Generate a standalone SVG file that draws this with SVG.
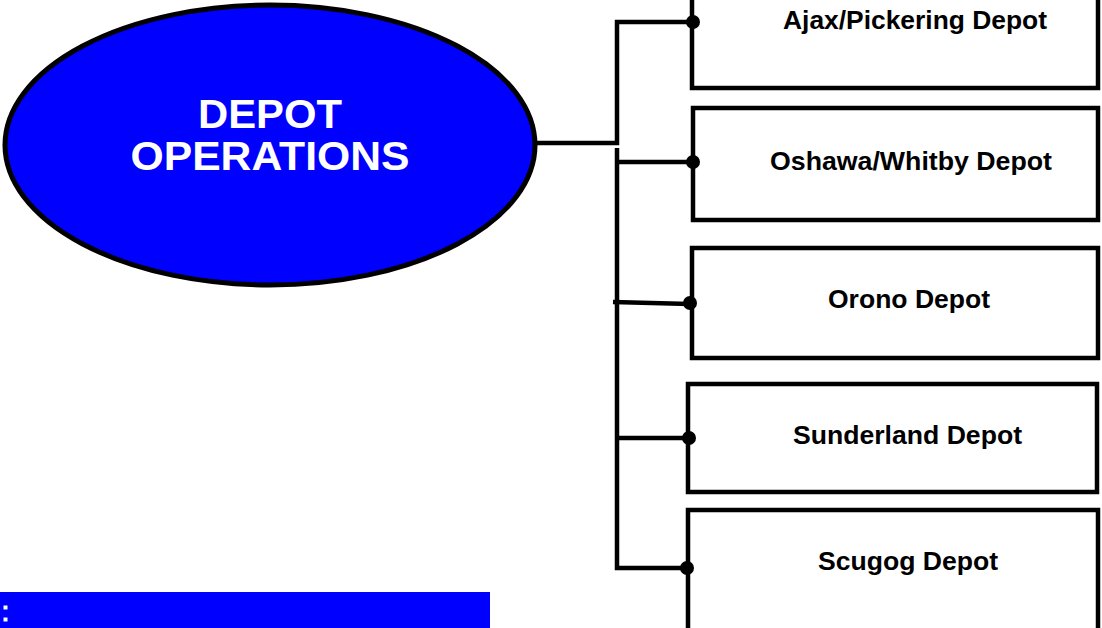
<svg xmlns="http://www.w3.org/2000/svg" width="1102" height="628" viewBox="0 0 1102 628">
<style>
.box{fill:#fff;stroke:#000;stroke-width:4.5}
.lbl{font-family:"Liberation Sans",Arial,sans-serif;font-weight:bold;font-size:25px;fill:#000;text-anchor:middle}
.title{font-family:"Liberation Sans",Arial,sans-serif;font-weight:bold;font-size:40px;fill:#fff;text-anchor:middle}
.conn{fill:none;stroke:#000;stroke-width:4.5;stroke-linejoin:miter}
.dot{fill:#000}
</style>
<rect width="1102" height="628" fill="#fff"/>
<g id="connectors">
<path class="conn" d="M535,143 H617 V22 H693"/>
<path class="conn" d="M617,148 V568 H687"/>
<path class="conn" d="M617,162 H693"/>
<path class="conn" d="M613,302 L690,304"/>
<path class="conn" d="M617,438 H689"/>
</g>
<g id="depot-operations">
<ellipse cx="270" cy="145" rx="265" ry="140" fill="#0000ff" stroke="#000" stroke-width="5"/>
<text class="title" x="270" y="128" textLength="144" lengthAdjust="spacingAndGlyphs">DEPOT</text>
<text class="title" x="270" y="170" textLength="279" lengthAdjust="spacingAndGlyphs">OPERATIONS</text>
</g>
<g id="ajax">
<rect class="box" x="692" y="-10" width="406" height="98"/>
<text class="lbl" x="915" y="29" textLength="264" lengthAdjust="spacingAndGlyphs">Ajax/Pickering Depot</text>
</g>
<g id="oshawa">
<rect class="box" x="693" y="108" width="405" height="112"/>
<text class="lbl" x="911" y="170" textLength="282" lengthAdjust="spacingAndGlyphs">Oshawa/Whitby Depot</text>
</g>
<g id="orono">
<rect class="box" x="692" y="248" width="406" height="110"/>
<text class="lbl" x="909" y="308" textLength="162" lengthAdjust="spacingAndGlyphs">Orono Depot</text>
</g>
<g id="sunderland">
<rect class="box" x="688" y="384" width="409" height="108"/>
<text class="lbl" x="907.5" y="444" textLength="229" lengthAdjust="spacingAndGlyphs">Sunderland Depot</text>
</g>
<g id="scugog">
<rect class="box" x="688" y="510" width="410" height="130"/>
<text class="lbl" x="908" y="570" textLength="180" lengthAdjust="spacingAndGlyphs">Scugog Depot</text>
</g>
<g id="dots">
<circle class="dot" cx="693" cy="22" r="7"/>
<circle class="dot" cx="693" cy="162" r="7"/>
<circle class="dot" cx="690" cy="303" r="7"/>
<circle class="dot" cx="689" cy="438" r="7"/>
<circle class="dot" cx="687" cy="568" r="7"/>
</g>
<g id="legend-bar">
<rect x="0" y="592" width="490" height="36" fill="#0000ff"/>
<rect x="3.5" y="605.5" width="4" height="4" fill="#fff"/>
<rect x="3.5" y="617.5" width="4" height="4" fill="#fff"/>
</g>
</svg>
